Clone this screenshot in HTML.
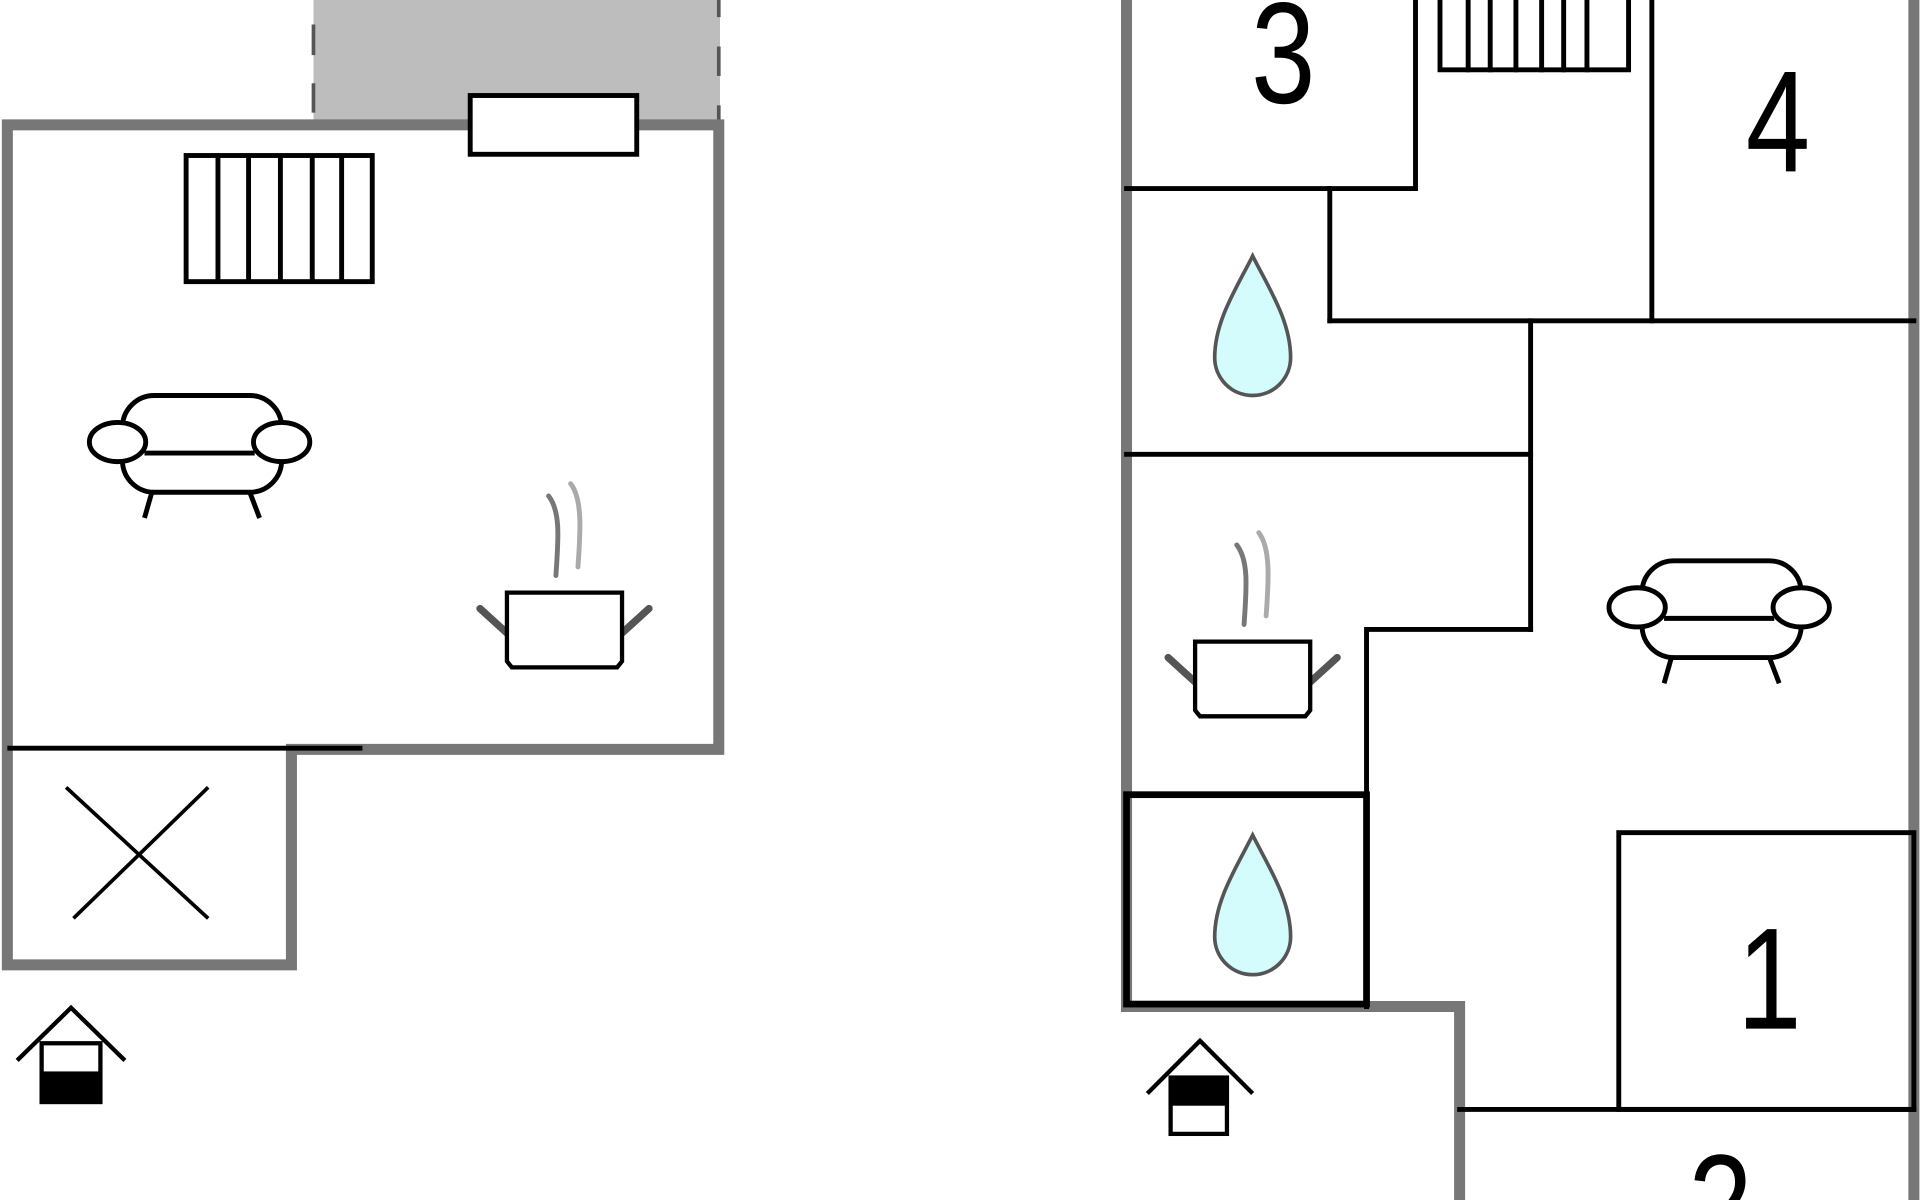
<!DOCTYPE html>
<html><head><meta charset="utf-8"><style>html,body{margin:0;padding:0;background:#fff;overflow:hidden;width:1920px;height:1200px}svg{display:block;overflow:hidden}</style></head>
<body>
<svg width="1920" height="1200" viewBox="0 0 1568 980" xmlns="http://www.w3.org/2000/svg">
<defs><clipPath id="c"><rect width="1568" height="980"/></clipPath></defs>
<g clip-path="url(#c)">
<rect width="1568" height="980" fill="#fff"/>
<rect x="256" y="0" width="332" height="102" fill="#bdbdbe"/>
<g stroke="#555" stroke-width="3">
<line x1="256" y1="20" x2="256" y2="45"/><line x1="256" y1="68" x2="256" y2="92"/>
<line x1="587" y1="0" x2="587" y2="14"/><line x1="587" y1="38" x2="587" y2="62"/><line x1="587" y1="86" x2="587" y2="108"/>
</g>
<g stroke="#777" stroke-width="9" fill="none" stroke-linecap="square">
<polyline points="6,102 587,102 587,612 238,612 238,788 6,788 6,102"/>
</g>
<line x1="6" y1="611" x2="296" y2="611" stroke="#000" stroke-width="4"/>
<rect x="384" y="78" width="136" height="48" fill="#fff" stroke="#000" stroke-width="4"/>
<g stroke="#000" stroke-width="4" fill="none">
<rect x="152" y="127" width="152" height="103"/>
<line x1="178" y1="127" x2="178" y2="230"/><line x1="203" y1="127" x2="203" y2="230"/><line x1="229" y1="127" x2="229" y2="230"/><line x1="255" y1="127" x2="255" y2="230"/><line x1="279" y1="127" x2="279" y2="230"/>
<line x1="54" y1="643" x2="170" y2="750" stroke-width="3"/><line x1="170" y1="643" x2="60" y2="750" stroke-width="3"/>
</g>
<g stroke="#000" stroke-width="4" fill="#fff">
<rect x="100" y="323" width="130" height="79" rx="26"/>
<line x1="118" y1="370" x2="208" y2="370"/>
<ellipse cx="96" cy="361" rx="23" ry="16"/>
<ellipse cx="230" cy="361" rx="23" ry="16"/>
<line x1="124" y1="402" x2="118" y2="423"/><line x1="204" y1="402" x2="212" y2="423"/>
</g>
<g fill="none" stroke-linecap="round">
<path d="M448,405 C458,418 456,440 454,470" stroke="#777" stroke-width="4"/>
<path d="M466,395 C476,408 474,435 472,463" stroke="#aaa" stroke-width="4"/>
<line x1="392" y1="497" x2="414" y2="517" stroke="#555" stroke-width="6"/>
<line x1="530" y1="497" x2="508" y2="517" stroke="#555" stroke-width="6"/>
<path d="M414,484 H508 V540 L504,545 H418 L414,540 Z" fill="#fff" stroke="#000" stroke-width="3.5"/>
</g>
<polyline points="14,866 58,823 102,866" fill="none" stroke="#000" stroke-width="3.5"/>
<rect x="34" y="852" width="48" height="48" fill="#fff" stroke="#000" stroke-width="3.5"/>
<rect x="34" y="875" width="48" height="25" fill="#000"/>

<g stroke="#777" stroke-width="9" fill="none" stroke-linecap="square">
<polyline points="920,0 920,822 1192,822 1192,980"/>
<line x1="1563" y1="0" x2="1563" y2="980"/>
</g>
<g stroke="#000" stroke-width="4" fill="none" stroke-linecap="square">
<polyline points="920,154 1156,154 1156,0"/>
<line x1="1086" y1="154" x2="1086" y2="262"/>
<line x1="1086" y1="262" x2="1563" y2="262"/>
<line x1="1349" y1="0" x2="1349" y2="262"/>
<polyline points="1176,0 1176,57 1330,57 1330,0"/>
<line x1="1199" y1="0" x2="1199" y2="57"/><line x1="1217" y1="0" x2="1217" y2="57"/><line x1="1238" y1="0" x2="1238" y2="57"/><line x1="1259" y1="0" x2="1259" y2="57"/><line x1="1277" y1="0" x2="1277" y2="57"/><line x1="1296" y1="0" x2="1296" y2="57"/>
<line x1="1250" y1="262" x2="1250" y2="514"/>
<line x1="920" y1="371" x2="1250" y2="371"/>
<polyline points="1250,514 1116,514 1116,822"/>
<rect x="920" y="649" width="196" height="171" stroke-width="5.5"/>
<rect x="1322" y="680" width="241" height="226"/>
<line x1="1192" y1="906" x2="1563" y2="906"/>
</g>
<g font-family="Liberation Sans, sans-serif" font-size="118" text-anchor="middle" fill="#000">
<text x="1048" y="84" transform="translate(1048 0) scale(0.8 1) translate(-1048 0)">3</text>
<text x="1452" y="140" transform="translate(1452 0) scale(0.8 1) translate(-1452 0)">4</text>
<text x="1445" y="840" transform="translate(1445 0) scale(0.8 1) translate(-1445 0)">1</text>
<text x="1405" y="1025" transform="translate(1405 0) scale(0.8 1) translate(-1405 0)">2</text>
</g>
<path d="M1023,209 C1010,235 992,262 992,292 A31,31 0 0 0 1054,292 C1054,262 1036,235 1023,209 Z" fill="#d4fcfd" stroke="#555" stroke-width="3"/>
<path d="M1023,682 C1010,708 992,735 992,765 A31,31 0 0 0 1054,765 C1054,735 1036,708 1023,682 Z" fill="#d4fcfd" stroke="#555" stroke-width="3"/>
<g transform="translate(1241 135)" stroke="#000" stroke-width="4" fill="#fff">
<rect x="100" y="323" width="130" height="79" rx="26"/>
<line x1="118" y1="370" x2="208" y2="370"/>
<ellipse cx="96" cy="361" rx="23" ry="16"/>
<ellipse cx="230" cy="361" rx="23" ry="16"/>
<line x1="124" y1="402" x2="118" y2="423"/><line x1="204" y1="402" x2="212" y2="423"/>
</g>
<g transform="translate(562 40)" fill="none" stroke-linecap="round">
<path d="M448,405 C458,418 456,440 454,470" stroke="#777" stroke-width="4"/>
<path d="M466,395 C476,408 474,435 472,463" stroke="#aaa" stroke-width="4"/>
<line x1="392" y1="497" x2="414" y2="517" stroke="#555" stroke-width="6"/>
<line x1="530" y1="497" x2="508" y2="517" stroke="#555" stroke-width="6"/>
<path d="M414,484 H508 V540 L504,545 H418 L414,540 Z" fill="#fff" stroke="#000" stroke-width="3.5"/>
</g>
<polyline points="937,893 980,850 1023,893" fill="none" stroke="#000" stroke-width="3.5"/>
<rect x="956" y="880" width="46" height="46" fill="#fff" stroke="#000" stroke-width="3.5"/>
<rect x="956" y="880" width="46" height="23" fill="#000"/>
</g>
</svg>
</body></html>
